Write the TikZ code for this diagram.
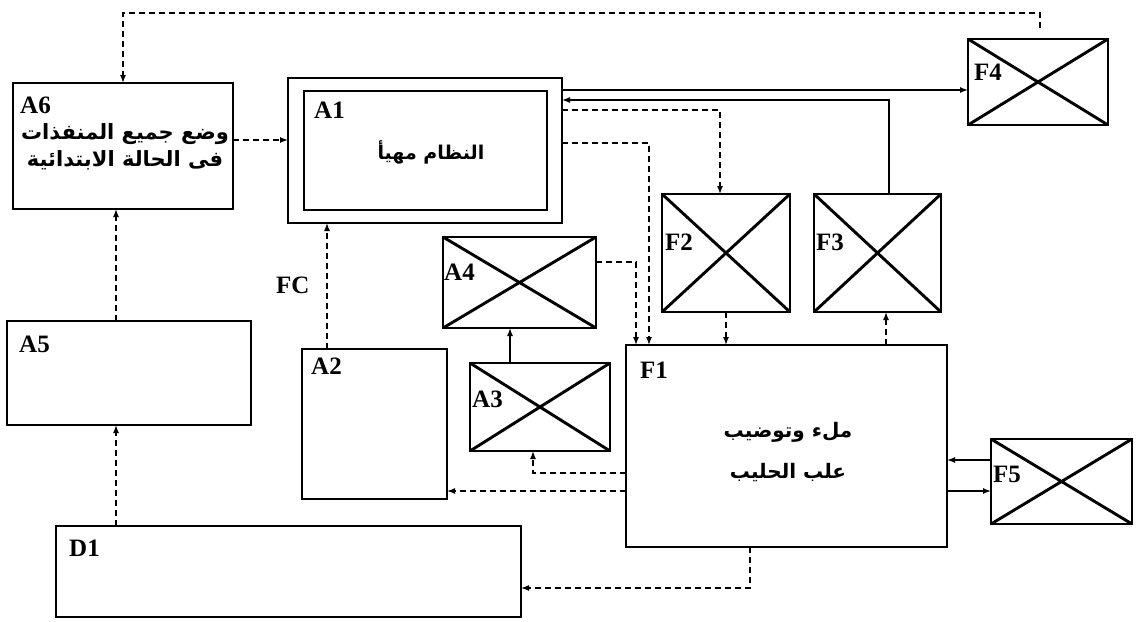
\documentclass[tikz,border=0pt]{standalone}
\usepackage{fontspec}
\setmainfont{Liberation Serif}
\newfontfamily\arabicfont[Script=Arabic]{DejaVu Sans}
\TeXXeTstate=1
\usetikzlibrary{arrows.meta}
\tikzset{
  box/.style={draw, rectangle, line width=2.9pt, inner sep=0pt, outer sep=0pt},
  xbox/.style={box, path picture={\draw[line width=2.9pt]
     (path picture bounding box.north west) -- (path picture bounding box.south east)
     (path picture bounding box.south west) -- (path picture bounding box.north east);}},
  lbl/.style={font=\fontsize{25}{27}\selectfont\bfseries, inner sep=0pt, anchor=base west},
  ar/.style={font=\arabicfont\bfseries\fontsize{21}{27}\selectfont, align=center, inner sep=0pt},
  dl/.style={line width=1.4pt, dash pattern=on 6pt off 4pt, -{Latex[length=8pt,width=6pt]}},
  sl/.style={line width=1.4pt, -{Latex[length=8pt,width=6pt]}},
}
\begin{document}
\begin{tikzpicture}[x=1pt,y=-1pt]
\useasboundingbox (0,0) rectangle (1142,621);
% boxes
\node[box, minimum width=220pt, minimum height=126pt] (A6) at (123,146) {};
\node[box, minimum width=274pt, minimum height=145pt] (A1o) at (425,150.5) {};
\node[box, minimum width=243pt, minimum height=119pt] (A1) at (425.5,150.5) {};
\node[xbox, minimum width=140pt, minimum height=86pt] (F4) at (1038,82) {};
\node[xbox, minimum width=128pt, minimum height=118pt] (F2) at (726,253) {};
\node[xbox, minimum width=127pt, minimum height=118pt] (F3) at (877.5,253) {};
\node[xbox, minimum width=153pt, minimum height=91pt] (A4) at (519.5,282.5) {};
\node[xbox, minimum width=140pt, minimum height=88pt] (A3) at (540,407) {};
\node[box, minimum width=145pt, minimum height=150pt] (A2) at (374.5,424) {};
\node[box, minimum width=244pt, minimum height=104pt] (A5) at (129,373) {};
\node[box, minimum width=465pt, minimum height=91pt] (D1) at (288.5,571.5) {};
\node[box, minimum width=321pt, minimum height=202pt] (F1) at (786.5,446) {};
\node[xbox, minimum width=141pt, minimum height=85pt] (F5) at (1061.5,481.5) {};
% labels
\node[lbl] (lA6) at (20,113) {A6};
\node[lbl] (lA1) at (314,118) {A1};
\node[lbl] (lF4) at (974,80) {F4};
\node[lbl] (lF2) at (665,250) {F2};
\node[lbl] (lF3) at (816,250) {F3};
\node[lbl] (lA4) at (444,280) {A4};
\node[lbl] (lA3) at (472,407) {A3};
\node[lbl] (lA2) at (311,374) {A2};
\node[lbl] (lA5) at (19,352) {A5};
\node[lbl] (lD1) at (69,556) {D1};
\node[lbl] (lF1) at (640,378) {F1};
\node[lbl] (lF5) at (993,482) {F5};
\node[lbl] (lFC) at (276,293) {FC};
% arabic texts
\node[ar] (tA6) at (125,147) {\beginR وضع جميع المنفذات\endR\\\beginR فى الحالة الابتدائية\endR};
\node[ar, font=\arabicfont\bfseries\fontsize{19}{27}\selectfont] (tA1) at (431,152) {\beginR النظام مهيأ\endR};
\node[ar, font=\arabicfont\bfseries\fontsize{20}{41}\selectfont] (tF1) at (788,452) {\beginR ملء وتوضيب\endR\\\beginR علب الحليب\endR};
% connectors
\coordinate (f4t) at (1040,28);
\draw[dl] (f4t) -- ++(0,-15) -| (A6.north);
\draw[dl] (A6.east |- 0,140) -- (A1o.west |- 0,140);
\draw[sl] (A1o.east |- 0,90) -- (F4.west |- 0,90);
\draw[sl] (F3.north -| 889,0) |- (A1o.east |- 0,100);
\draw[dl] (A1o.east |- 0,110) -| (F2.north -| 720,0);
\draw[dl] (A1o.east |- 0,143) -| (F1.north -| 649,0);
\draw[dl] (A4.east |- 0,262) -| (F1.north -| 636,0);
\draw[dl] (F2.south) -- (F2.south |- F1.north);
\draw[dl] (F1.north -| 886,0) -- (F3.south -| 886,0);
\draw[sl] (F5.west |- 0,460) -- (F1.east |- 0,460);
\draw[sl] (F1.east |- 0,491) -- (F5.west |- 0,491);
\draw[dl] (F1.west |- 0,473) -| (A3.south -| 533,0);
\draw[dl] (F1.west |- 0,491) -- (A2.east |- 0,491);
\draw[sl] (A3.north -| 510,0) -- (A4.south -| 510,0);
\draw[dl] (A2.north -| 327,0) -- (A1o.south -| 327,0);
\draw[dl] (A5.north -| 116,0) -- (A6.south -| 116,0);
\draw[dl] (D1.north -| 116,0) -- (A5.south -| 116,0);
\draw[dl] (F1.south -| 750,0) |- (D1.east |- 0,588);
\end{tikzpicture}
\end{document}
